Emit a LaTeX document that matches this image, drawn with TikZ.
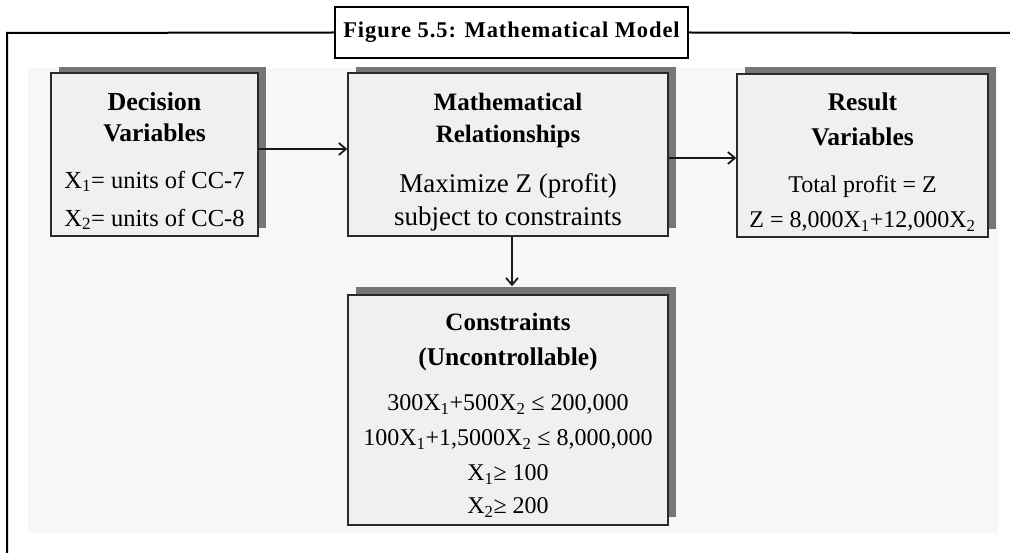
\documentclass[tikz,border=0pt]{standalone}
\usepackage{fontspec}
\setmainfont{Liberation Serif}
\newfontfamily\titlefont{Liberation Serif}[LetterSpace=4]
\usetikzlibrary{arrows.meta,shadows}
\definecolor{bgcol}{HTML}{F7F7F7}
\definecolor{boxfill}{HTML}{F0F0F0}
\definecolor{boxline}{HTML}{2A2A2A}
\definecolor{shadowcol}{HTML}{767676}
\newcommand\sbs[1]{\textsubscript{#1}}
\newcommand\fs[1]{\fontsize{#1}{#1}\selectfont}
\begin{document}
\begin{tikzpicture}[x=1pt,y=-1pt,
  frame/.style={line width=2pt, draw=black},
  titlebox/.style={draw=black, line width=2pt, fill=white, minimum width=353pt, minimum height=51pt, inner sep=0pt, font=\fontsize{22.5}{26}\selectfont\titlefont\bfseries},
  box/.style={draw=boxline, line width=1.5pt, fill=boxfill, inner sep=0pt,
    drop shadow={shadow xshift=8pt, shadow yshift=8pt, shadow scale=1, fill=shadowcol, opacity=1}},
  txt/.style={anchor=north, inner sep=0pt, align=center},
  arr/.style={line width=1.8pt, draw=black!90, -{Straight Barb[length=7pt,width=12pt,line width=1.8pt]}}
]
\useasboundingbox (0,0) rectangle (1010,553);
% background panel
\fill[bgcol] (28,68) rectangle (998,533);
% title and frame
\node[titlebox] (tb) at (511.5,32.5) {Figure 5.5: Mathematical Model};
\draw[frame] (tb.west) -- (7,33) -- (7,553);
\draw[frame] (tb.east) -- (1010,33);
% boxes
\begin{scope}
\clip (28,68) rectangle (998,533);
\node[box, minimum width=207pt, minimum height=163pt] (dv) at (154.5,154.5) {};
\node[box, minimum width=320pt, minimum height=163pt] (mr) at (508,154.5) {};
\node[box, minimum width=251pt, minimum height=163pt] (rv) at (862.5,155.5) {};
\node[box, minimum width=320pt, minimum height=230pt] (cu) at (508,410) {};
\end{scope}
% texts
\node[txt, font=\fontsize{25.5}{31}\selectfont] (dvt) at (154.5,92)
  {\textbf{\fs{26}Decision}\\\textbf{Variables}\\[16pt]{\fs{24.5}X\sbs{1}= units of CC-7}\\[7pt]{\fs{24.5}X\sbs{2}= units of CC-8}};
\node[txt, font=\fontsize{25}{32}\selectfont] (mrt) at (508,93)
  {\textbf{Mathematical}\\\textbf{Relationships}\\[18pt]{\fs{27}Maximize Z (profit)}\\[1pt]{\fs{27}subject to constraints}};
\node[txt, font=\fontsize{25.5}{35}\selectfont] (rvt) at (862.5,93)
  {\textbf{Result}\\\textbf{Variables}\\[12pt]{\fs{24}Total profit = Z}\\{\fs{24}Z = 8,000X\sbs{1}+12,000X\sbs{2}}};
\node[txt, font=\fontsize{25}{35}\selectfont] (cut) at (508,313)
  {\textbf{Constraints}\\\textbf{\fs{25.5}(Uncontrollable)}\\[10pt]{\fs{24}300X\sbs{1}+500X\sbs{2} ≤ 200,000}\\{\fs{24}100X\sbs{1}+1,5000X\sbs{2} ≤ 8,000,000}\\{\fs{24}X\sbs{1}≥ 100}\\[-2pt]{\fs{24}X\sbs{2}≥ 200}};
% connectors
\draw[arr] ([yshift=5.5pt]dv.east) -- ([yshift=5.5pt]dv.east -| mr.west);
\draw[arr] ([yshift=-3.5pt]mr.east) -- ([yshift=-3.5pt]mr.east -| rv.west);
\draw[arr] ([xshift=4pt]mr.south) -- ([xshift=4pt,yshift=8pt]cu.north);
\end{tikzpicture}
\end{document}
